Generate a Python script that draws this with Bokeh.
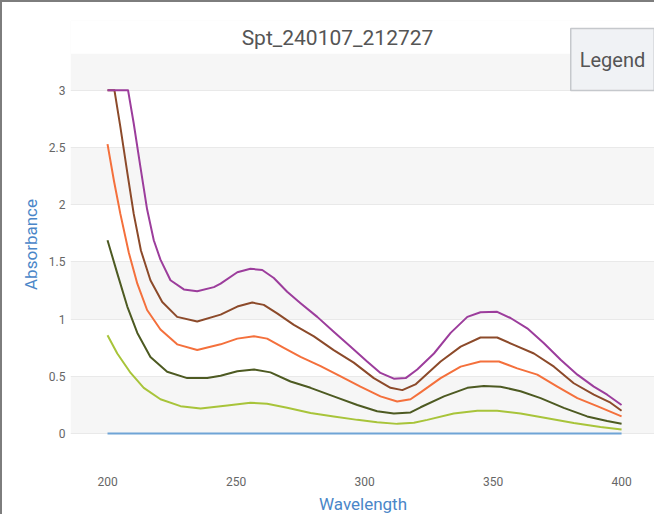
from bokeh.plotting import figure
from bokeh.models import Range1d, FixedTicker, Label, BoxAnnotation
from bokeh.embed import file_html
from bokeh.resources import INLINE

title_text = "Spt_240107_212727"
x_label = "Wavelength"
y_label = "Absorbance"
legend_text = "Legend"

x_ticks = [200, 250, 300, 350, 400]
y_ticks = [0, 0.5, 1, 1.5, 2, 2.5, 3]
y_tick_labels = ["0", "0.5", "1", "1.5", "2", "2.5", "3"]

# baseline (blank)
wl_base = [200, 400]
abs_base = [0, 0]

# series 1 (purple)
wl_s1 = [200, 208, 210.2, 212.8, 215.4, 218, 220.6, 224.5, 229.7, 234.9, 241.4, 244, 250.5, 255.6, 260.2,
         264.7, 269.9, 275.1, 281.6, 288, 294.6, 301, 306.2, 311.4, 316, 320.5, 327, 333.5, 340, 345.1,
         351.6, 356.8, 363.3, 369.8, 376.3, 382.8, 389.2, 394.4, 400]
abs_s1 = [3.0, 3.0, 2.71, 2.33, 1.96, 1.69, 1.52, 1.34, 1.26, 1.244, 1.28, 1.31, 1.41, 1.44, 1.43,
          1.36, 1.24, 1.14, 1.02, 0.89, 0.76, 0.63, 0.53, 0.48, 0.485, 0.56, 0.70, 0.88, 1.02, 1.06,
          1.064, 1.01, 0.92, 0.79, 0.645, 0.515, 0.41, 0.34, 0.25]

# series 2 (brown)
wl_s2 = [200, 202.7, 205, 207.7, 210.2, 213, 216.7, 221.3, 227.1, 234.9, 244, 250.5, 256.3, 260.8, 266,
         272.5, 280.3, 288, 295.8, 303.6, 310.1, 314.7, 319.8, 329.6, 337.4, 345.1, 351.6, 358.1, 365.9,
         373.7, 381.4, 389.2, 395.7, 400]
abs_s2 = [3.0, 3.0, 2.68, 2.28, 1.92, 1.60, 1.34, 1.15, 1.02, 0.98, 1.04, 1.11, 1.145, 1.125, 1.05,
          0.95, 0.85, 0.73, 0.62, 0.485, 0.40, 0.38, 0.43, 0.63, 0.76, 0.84, 0.84, 0.775, 0.70,
          0.585, 0.44, 0.34, 0.27, 0.20]

# series 3 (orange)
wl_s3 = [200, 202.5, 205, 208.3, 211.6, 215.4, 220.6, 227.1, 234.9, 244, 250.5, 257, 262.1, 268.6, 275.1,
         282.9, 290.7, 298.4, 306.2, 312.7, 317.9, 321.8, 329.6, 337.4, 345.1, 352.3, 359.4, 367.2, 375,
         382.8, 390.5, 400]
abs_s3 = [2.53, 2.21, 1.92, 1.58, 1.31, 1.08, 0.91, 0.78, 0.73, 0.78, 0.83, 0.85, 0.83, 0.75, 0.67,
          0.59, 0.50, 0.41, 0.325, 0.28, 0.30, 0.36, 0.485, 0.585, 0.63, 0.63, 0.57, 0.515, 0.41,
          0.31, 0.24, 0.15]

# series 4 (dark green)
wl_s4 = [200, 203.8, 207.7, 211.6, 216.7, 223.2, 231, 238.8, 244, 250.5, 257, 263.4, 271.2, 279, 288,
         297.2, 304.9, 311.4, 317.9, 321.8, 330.9, 340, 346.4, 352.9, 360.7, 368.5, 377.5, 386.6, 394.4, 400]
abs_s4 = [1.69, 1.40, 1.11, 0.88, 0.67, 0.54, 0.485, 0.485, 0.505, 0.545, 0.56, 0.535, 0.455, 0.40, 0.325,
          0.25, 0.195, 0.175, 0.185, 0.23, 0.325, 0.40, 0.415, 0.41, 0.37, 0.31, 0.225, 0.15, 0.11, 0.087]

# series 5 (yellow green)
wl_s5 = [200, 203.8, 209, 214.1, 220.6, 228.4, 236.2, 246.6, 255.6, 262.1, 269.9, 279, 288, 297.2, 304.9,
         312.7, 319.2, 324.4, 334.7, 343.9, 351.6, 360.7, 371.1, 381.4, 391.8, 400]
abs_s5 = [0.86, 0.70, 0.53, 0.40, 0.30, 0.24, 0.22, 0.245, 0.27, 0.26, 0.225, 0.18, 0.15, 0.12, 0.10,
          0.085, 0.095, 0.12, 0.175, 0.20, 0.20, 0.175, 0.135, 0.093, 0.058, 0.035]

series = [
    (wl_base, abs_base, "#6fa4d6"),
    (wl_s5, abs_s5, "#a8c43a"),
    (wl_s4, abs_s4, "#4d5a22"),
    (wl_s3, abs_s3, "#f4703c"),
    (wl_s2, abs_s2, "#8c4a2a"),
    (wl_s1, abs_s1, "#9c3d9c"),
]

FONT = "Roboto"
BAND = "#f6f6f6"

p = figure(width=654, height=514, output_backend="svg", toolbar_location=None,
           x_range=Range1d(185.6, 413.2), y_range=Range1d(-0.305, 3.61),
           min_border_left=68, min_border_right=1, min_border_top=18, min_border_bottom=47)
p.styles = {"border-top": "2px solid #7d7d7d", "border-left": "2px solid #7d7d7d"}

p.background_fill_color = "white"
p.border_fill_color = "white"
p.outline_line_color = None

p.xgrid.visible = False
p.ygrid.grid_line_color = "#e9e9e9"
p.ygrid.grid_line_width = 1
p.ygrid.band_fill_color = BAND
p.ygrid.band_fill_alpha = 1.0
p.ygrid.ticker = FixedTicker(ticks=y_ticks)

# white header area above the chart's shaded plotting area
p.add_layout(BoxAnnotation(bottom=3.32, fill_color="white", fill_alpha=1.0,
                           line_color=None, level="glyph"))

for ax in (p.xaxis[0], p.yaxis[0]):
    ax.axis_line_color = None
    ax.major_tick_line_color = None
    ax.minor_tick_line_color = None
    ax.major_tick_out = 0
    ax.major_tick_in = 0
    ax.minor_tick_out = 0
    ax.major_label_text_color = "#666666"
    ax.major_label_text_font = FONT
    ax.major_label_text_font_size = "12px"
    ax.axis_label_text_color = "#4a86c8"
    ax.axis_label_text_font = FONT
    ax.axis_label_text_font_size = "17px"
    ax.axis_label_text_font_style = "normal"

p.xaxis.ticker = FixedTicker(ticks=x_ticks)
p.yaxis.ticker = FixedTicker(ticks=y_ticks)
p.yaxis.major_label_overrides = {(int(v) if float(v).is_integer() else v): lab
                                 for v, lab in zip(y_ticks, y_tick_labels)}
p.xaxis.axis_label = x_label
p.yaxis.axis_label = y_label
p.xaxis.major_label_standoff = 8
p.yaxis.major_label_standoff = 5
p.xaxis.axis_label_standoff = 5
p.yaxis.axis_label_standoff = 5

for xs, ys, c in series:
    p.line(xs, ys, line_color=c, line_width=2, line_join="round")

p.add_layout(Label(x=267, y=431, x_units="screen", y_units="screen", text=title_text,
                   text_align="center", text_baseline="middle", text_font=FONT,
                   text_font_size="21px", text_color="#555555"))

p.add_layout(Label(x=542, y=409, x_units="screen", y_units="screen", text=legend_text,
                   text_align="center", text_baseline="middle", text_font=FONT,
                   text_font_size="20px", text_color="#555555",
                   background_fill_color="#f0f2f5", border_line_color="#c5c8cc",
                   border_line_width=1.5, padding=(9, 19)))

open("out.html", "w").write(file_html(p, INLINE))
